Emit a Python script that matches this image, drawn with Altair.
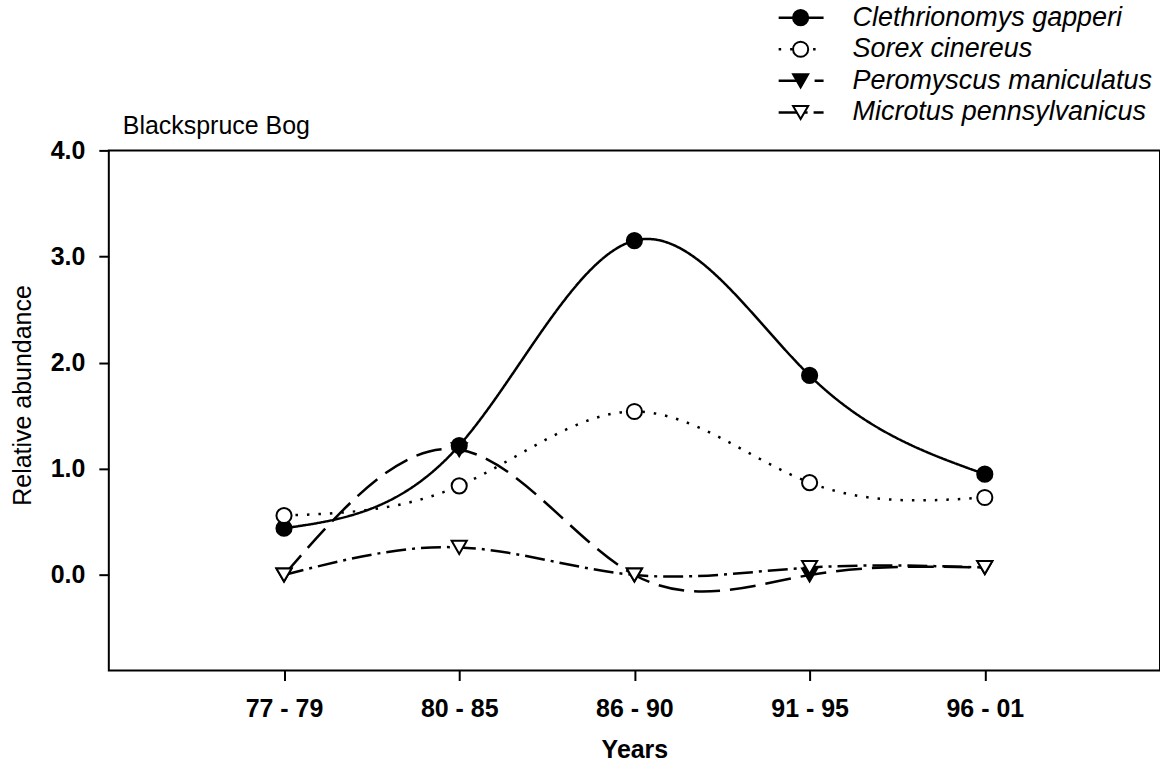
import altair as alt
import pandas as pd

# Sampling periods and species
periods = ["77 - 79", "80 - 85", "86 - 90", "91 - 95", "96 - 01"]
species = [
    "Clethrionomys gapperi",
    "Sorex cinereus",
    "Peromyscus maniculatus",
    "Microtus pennsylvanicus",
]

# Relative abundance per period
clethrionomys = [0.44, 1.22, 3.15, 1.88, 0.95]
sorex = [0.56, 0.84, 1.54, 0.87, 0.73]
peromyscus = [0.0, 1.18, 0.0, 0.0, 0.07]
microtus = [0.0, 0.26, 0.0, 0.07, 0.07]

site_title = "Blackspruce Bog"

series = [clethrionomys, sorex, peromyscus, microtus]
rows = []
for name, values in zip(species, series):
    for period, v in zip(periods, values):
        rows.append({"species": name, "period": period, "abundance": v})
df = pd.DataFrame(rows)

FONT = "Liberation Sans"
W, H = 1053, 521

dash_scale = alt.Scale(domain=species, range=[[1, 0], [2.5, 9], [26, 10], [20, 6, 3, 6]])
shape_scale = alt.Scale(domain=species, range=["circle", "circle", "triangle-down", "triangle-down"])
fill_scale = alt.Scale(domain=species, range=["black", "white", "black", "white"])

x_enc = alt.X(
    "period:N",
    sort=periods,
    scale=alt.Scale(type="point", padding=1),
    axis=alt.Axis(
        title="Years",
        labelAngle=0,
        domain=False,
        tickSize=10,
        tickWidth=2,
        tickColor="black",
        labelFontSize=25,
        labelFontWeight="bold",
        labelPadding=16,
        labelColor="black",
        titleFontSize=25,
        titleFontWeight="bold",
        titleColor="black",
        titleX=W / 2,
        titleY=79,
        titleBaseline="middle",
    ),
)
y_enc = alt.Y(
    "abundance:Q",
    scale=alt.Scale(domain=[-0.9, 4.0], nice=False, zero=False),
    axis=alt.Axis(
        title="Relative abundance",
        values=[0, 1, 2, 3, 4],
        format=".1f",
        grid=False,
        domain=False,
        tickSize=10,
        tickWidth=2,
        tickColor="black",
        labelFontSize=25,
        labelFontWeight="bold",
        labelPadding=14,
        labelColor="black",
        titleFontSize=25,
        titleFontWeight="normal",
        titleColor="black",
        titleX=-86,
        titleY=245,
        titleAngle=270,
        titleBaseline="middle",
        titleAlign="center",
    ),
)

lines = alt.Chart(df).mark_line(interpolate="natural", color="black", strokeWidth=2.5).encode(
    x=x_enc,
    y=y_enc,
    detail="species:N",
    strokeDash=alt.StrokeDash("species:N", scale=dash_scale, legend=None),
)

points = alt.Chart(df).mark_point(filled=True, stroke="black", strokeWidth=2, size=230, opacity=1).encode(
    x=x_enc,
    y=y_enc,
    shape=alt.Shape("species:N", scale=shape_scale, legend=None),
    fill=alt.Fill("species:N", scale=fill_scale, legend=None),
)

plot = alt.layer(lines, points)

# Key above the plot: line sample, marker and italic name per species
key_df = pd.DataFrame({"species": species})
key_y = alt.Y(
    "species:N",
    sort=species,
    scale=alt.Scale(type="point", domain=species, range=[-133, -38], padding=0),
    axis=None,
)

key_lines = alt.Chart(key_df).mark_rule(color="black", strokeWidth=2.5).encode(
    x=alt.value(671),
    x2=alt.value(716),
    y=key_y,
    strokeDash=alt.StrokeDash("species:N", scale=dash_scale, legend=None),
)
key_points = alt.Chart(key_df).mark_point(filled=True, stroke="black", strokeWidth=2, size=230, opacity=1).encode(
    x=alt.value(693),
    y=key_y,
    shape=alt.Shape("species:N", scale=shape_scale, legend=None),
    fill=alt.Fill("species:N", scale=fill_scale, legend=None),
)
key_text = alt.Chart(key_df).mark_text(
    align="left", baseline="middle", fontSize=27, fontStyle="italic", font=FONT, color="black"
).encode(x=alt.value(745), y=key_y, text="species:N")

key = alt.layer(key_lines, key_points, key_text)

heading = alt.Chart(pd.DataFrame({"t": [site_title]})).mark_text(
    align="left", baseline="middle", fontSize=25, font=FONT, color="black"
).encode(x=alt.value(14), y=alt.value(-24), text="t:N")

chart = (
    alt.layer(plot, key, heading)
    .resolve_scale(y="independent")
    .properties(
        width=W,
        height=H,
        autosize=alt.AutoSizeParams(type="none"),
        padding={"left": 109, "top": 150, "right": 0, "bottom": 96},
        background="white",
    )
    .configure(font=FONT)
    .configure_view(stroke="black", strokeWidth=2)
)

chart.save("out.html", embed_options={"renderer": "svg", "actions": False})
